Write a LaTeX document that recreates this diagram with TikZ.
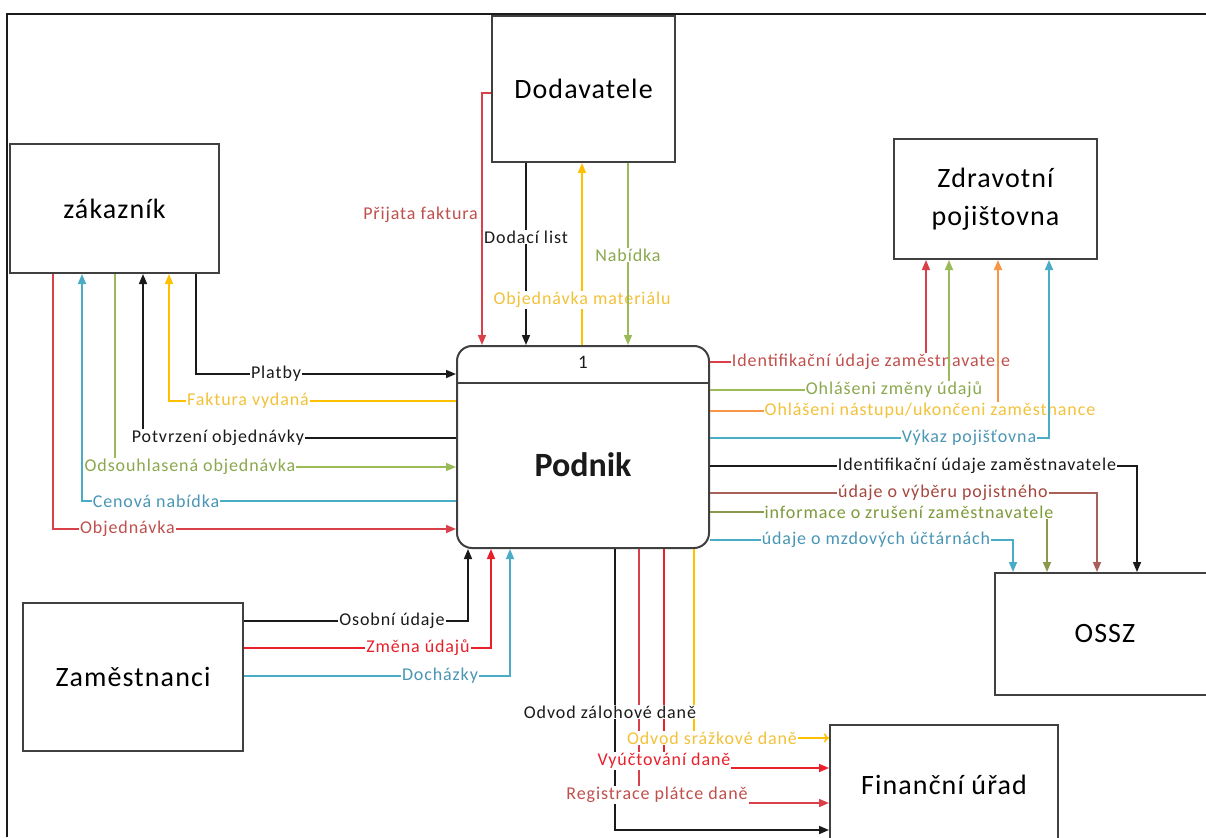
\documentclass[tikz,border=0pt]{standalone}
\usepackage{fontspec}
\setmainfont{Carlito}
\newfontfamily\lblfont{Carlito}[LetterSpace=5]
\newfontfamily\boxfont{Carlito}[LetterSpace=4]
\usetikzlibrary{arrows.meta}
\definecolor{boxgray}{HTML}{404040}
\definecolor{cblack}{HTML}{1A1A1A}
\definecolor{credl}{HTML}{D9404A}
\definecolor{credt}{HTML}{C0504D}
\definecolor{cbright}{HTML}{E8202A}
\definecolor{cblue}{HTML}{4BACC6}
\definecolor{cbluet}{HTML}{4A96B4}
\definecolor{cgreen}{HTML}{9BBB59}
\definecolor{cgreent}{HTML}{8BA84E}
\definecolor{colive}{HTML}{8A9A4A}
\definecolor{colivet}{HTML}{7E9A3A}
\definecolor{cyellow}{HTML}{FFC000}
\definecolor{cyellowt}{HTML}{F2C23A}
\definecolor{corange}{HTML}{F79646}
\definecolor{cbrown}{HTML}{A8605A}
\definecolor{cbrownt}{HTML}{A5473F}
\tikzset{
  ext/.style={draw=boxgray, line width=2pt, fill=white, inner sep=0pt, align=center,
    font=\boxfont\fontsize{28}{38}\selectfont},
  boxtext/.style={inner sep=0pt, font=\boxfont\fontsize{28}{38}\selectfont},
  proc/.style={draw=boxgray, line width=2pt, fill=white, rounded corners=15pt, inner sep=0pt},
  lbl/.style={fill=white, inner sep=1pt, font=\lblfont\fontsize{18}{20}\selectfont},
  flow/.style={line width=1.6pt, -{Triangle[length=10pt,width=8pt]}},
  oflow/.style={line width=1.6pt, -{To[length=5pt,width=9pt]}},
}
\begin{document}
\begin{tikzpicture}[x=1pt,y=-1pt]
\useasboundingbox (0,0) rectangle (1206,837);
% frame (screenshot border)
\draw[line width=1.5pt, cblack] (7,837) -- (7,14) -- (1206,14);

% external entities
\node[ext, minimum width=209pt, minimum height=129pt] (zak) at (114.5,208.5) {zákazník};
\node[ext, minimum width=183pt, minimum height=146pt] (dod) at (583.5,89) {Dodavatele};
\node[ext, minimum width=203pt, minimum height=120pt] (zp) at (995.5,199) {Zdravotní\\pojištovna};
\node[ext, minimum width=250pt, minimum height=122pt] (ossz) at (1120,634) {};
\node[boxtext] (osszt) at (1105,634) {OSSZ};
\node[ext, minimum width=228pt, minimum height=120pt] (fu) at (944,785) {Finanční úřad};
\node[ext, minimum width=220pt, minimum height=148pt] (zam) at (133,677) {Zaměstnanci};

% process
\node[proc, minimum width=252pt, minimum height=202pt] (pod) at (583,447) {};
\draw[line width=2pt, boxgray] (pod.west |- 0,383) -- (pod.east |- 0,383);
\node[font=\fontsize{19}{20}\selectfont, text=cblack] (podnum) at (583,362) {1};
\node[font=\bfseries\fontsize{34}{38}\selectfont, text=cblack] (podname) at (583,465) {Podnik};

% ---- zakaznik <-> podnik
\draw[flow, credl] (zak.south -| 53,0) |- (pod.west |- 0,529);
\node[lbl, text=credt] (l1) at (127.5,529) {Objednávka};
\draw[flow, cblue] (pod.west |- 0,501) -| (zak.south -| 82,0);
\node[lbl, text=cbluet] (l2) at (156,501) {Cenová nabídka};
\draw[flow, cgreen] (zak.south -| 115,0) |- (pod.west |- 0,467);
\node[lbl, text=cgreent] (l3) at (190,467) {Odsouhlasená objednávka};
\draw[flow, cblack] (pod.west |- 0,438) -| (zak.south -| 143,0);
\node[lbl, text=cblack] (l4) at (218,438) {Potvrzení objednávky};
\draw[flow, cyellow] (pod.west |- 0,401) -| (zak.south -| 169,0);
\node[lbl, text=cyellowt] (l5) at (248,401) {Faktura vydaná};
\draw[flow, cblack] (zak.south -| 196,0) |- (pod.west |- 0,374);
\node[lbl, text=cblack] (l6) at (276,374) {Platby};

% ---- dodavatele <-> podnik
\draw[flow, credl] (dod.west |- 0,93) -| (pod.north -| 482,0);
\node[lbl, text=credt, anchor=east] (l7) at (479,215) {Přijata faktura};
\draw[flow, cblack] (dod.south -| 526,0) -- (pod.north -| 526,0);
\node[lbl, text=cblack] (l8) at (526,237) {Dodací list};
\draw[flow, cyellow] (pod.north -| 582,0) -- (dod.south -| 582,0);
\node[lbl, text=cyellowt] (l9) at (582,300) {Objednávka materiálu};
\draw[flow, cgreen] (dod.south -| 628,0) -- (pod.north -| 628,0);
\node[lbl, text=cgreent] (l10) at (628,255) {Nabídka};

% ---- podnik -> zdravotni pojistovna
\draw[flow, credl] (pod.east |- 0,362) -| (zp.south -| 926,0);
\node[lbl, text=credt] (l11) at (871,362) {Identifikační údaje zaměstnavatele};
\draw[flow, cgreen] (pod.east |- 0,390) -| (zp.south -| 949,0);
\node[lbl, text=cgreent] (l12) at (894,390) {Ohlášeni změny údajů};
\draw[flow, corange] (pod.east |- 0,411) -| (zp.south -| 998,0);
\node[lbl, text=cyellowt] (l13) at (930,411) {Ohlášeni nástupu/ukončeni zaměstnance};
\draw[flow, cblue] (pod.east |- 0,438) -| (zp.south -| 1049,0);
\node[lbl, text=cbluet] (l14) at (969,438) {Výkaz pojišťovna};

% ---- podnik -> OSSZ
\draw[flow, cblack] (pod.east |- 0,466) -| (ossz.north -| 1137,0);
\node[lbl, text=cblack] (l15) at (977,466) {Identifikační údaje zaměstnavatele};
\draw[flow, cbrown] (pod.east |- 0,493) -| (ossz.north -| 1097,0);
\node[lbl, text=cbrownt] (l16) at (943,493) {údaje o výběru pojistného};
\draw[flow, colive] (pod.east |- 0,512) -| (ossz.north -| 1047,0);
\node[lbl, text=colivet] (l17) at (909,512) {informace o zrušení zaměstnavatele};
\draw[flow, cblue] (pod.east |- 0,540) -| (ossz.north -| 1013,0);
\node[lbl, text=cbluet] (l18) at (876,540) {údaje o mzdových účtárnách};

% ---- zamestnanci -> podnik
\draw[flow, cblack] (zam.east |- 0,621) -| (pod.south -| 468,0);
\node[lbl, text=cblack] (l19) at (392,621) {Osobní údaje};
\draw[flow, cbright] (zam.east |- 0,648) -| (pod.south -| 491,0);
\node[lbl, text=cbright] (l20) at (418,648) {Změna údajů};
\draw[flow, cblue] (zam.east |- 0,676) -| (pod.south -| 510,0);
\node[lbl, text=cbluet] (l21) at (440,676) {Docházky};

% ---- podnik -> financni urad
\draw[flow, cblack] (pod.south -| 615,0) |- (fu.west |- 0,830);
\draw[flow, credl] (pod.south -| 639,0) |- (fu.west |- 0,803);
\draw[flow, cbright] (pod.south -| 664,0) |- (fu.west |- 0,768);
\draw[oflow, cyellow] (pod.south -| 694,0) |- (fu.west |- 0,738);
\node[lbl, text=cblack] (l22) at (610,712) {Odvod zálohové daně};
\node[lbl, text=cyellowt] (l25) at (712,738) {Odvod srážkové daně};
\node[lbl, text=cbright] (l24) at (664,761) {Vyúčtování daně};
\node[lbl, text=credt] (l23) at (657,795) {Registrace plátce daně};
\end{tikzpicture}
\end{document}
